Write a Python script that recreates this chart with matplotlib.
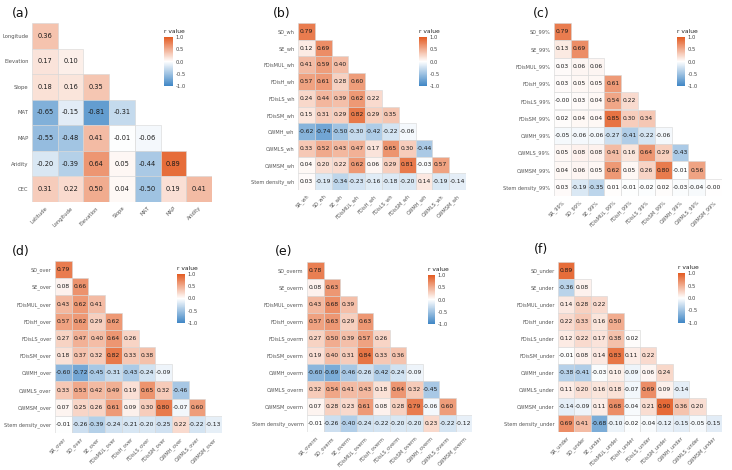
"""
Lower-triangle correlation heatmaps for six variable sets.
"""

import numpy as np
import matplotlib.pyplot as plt
from matplotlib.colors import LinearSegmentedColormap, Normalize
from matplotlib.cm import ScalarMappable
from matplotlib.patches import Rectangle

# ---- data (lower triangles, row by row) ----
env_vars = ["Latitude", "Longitude", "Elevation", "Slope", "MAT", "MAP",
            "Aridity", "CEC"]
env_r = [
    [0.36],
    [0.17, 0.10],
    [0.18, 0.16, 0.35],
    [-0.65, -0.15, -0.81, -0.31],
    [-0.55, -0.48, 0.41, -0.01, -0.06],
    [-0.20, -0.39, 0.64, 0.05, -0.44, 0.89],
    [0.31, 0.22, 0.50, 0.04, -0.50, 0.19, 0.41],
]

trait_vars = ["SR", "SD", "SE", "FDisMUL", "FDisH", "FDisLS", "FDisSM",
              "CWMH", "CWMLS", "CWMSM", "Stem density"]

wh_r = [
    [0.79],
    [0.12, 0.69],
    [0.41, 0.59, 0.40],
    [0.57, 0.61, 0.28, 0.60],
    [0.24, 0.44, 0.39, 0.62, 0.22],
    [0.15, 0.31, 0.29, 0.82, 0.29, 0.35],
    [-0.62, -0.74, -0.50, -0.30, -0.42, -0.22, -0.06],
    [0.33, 0.52, 0.43, 0.47, 0.17, 0.65, 0.30, -0.44],
    [0.04, 0.20, 0.22, 0.62, 0.06, 0.29, 0.81, -0.03, 0.57],
    [0.03, -0.19, -0.34, -0.23, -0.16, -0.18, -0.20, 0.14, -0.19, -0.14],
]

p99_r = [
    [0.79],
    [0.13, 0.69],
    [0.03, 0.06, 0.06],
    [0.03, 0.05, 0.05, 0.61],
    [-0.00, 0.03, 0.04, 0.54, 0.22],
    [0.02, 0.04, 0.04, 0.85, 0.30, 0.34],
    [-0.05, -0.06, -0.06, -0.27, -0.41, -0.22, -0.06],
    [0.05, 0.08, 0.08, 0.41, 0.16, 0.64, 0.29, -0.43],
    [0.04, 0.06, 0.05, 0.62, 0.05, 0.26, 0.80, -0.01, 0.56],
    [0.03, -0.19, -0.35, 0.01, -0.01, -0.02, 0.02, -0.03, -0.04, -0.00],
]

over_r = [
    [0.79],
    [0.08, 0.66],
    [0.43, 0.62, 0.41],
    [0.57, 0.62, 0.29, 0.62],
    [0.27, 0.47, 0.40, 0.64, 0.26],
    [0.18, 0.37, 0.32, 0.82, 0.33, 0.38],
    [-0.60, -0.72, -0.45, -0.31, -0.43, -0.24, -0.09],
    [0.33, 0.53, 0.42, 0.49, 0.19, 0.65, 0.32, -0.46],
    [0.07, 0.25, 0.26, 0.61, 0.09, 0.30, 0.80, -0.07, 0.60],
    [-0.01, -0.26, -0.39, -0.24, -0.21, -0.20, -0.25, 0.22, -0.22, -0.13],
]

overm_r = [
    [0.78],
    [0.08, 0.63],
    [0.43, 0.68, 0.39],
    [0.57, 0.63, 0.29, 0.63],
    [0.27, 0.50, 0.39, 0.57, 0.26],
    [0.19, 0.40, 0.31, 0.84, 0.33, 0.36],
    [-0.60, -0.69, -0.46, -0.26, -0.42, -0.24, -0.09],
    [0.32, 0.54, 0.41, 0.43, 0.18, 0.64, 0.32, -0.45],
    [0.07, 0.28, 0.23, 0.61, 0.08, 0.28, 0.79, -0.06, 0.60],
    [-0.01, -0.26, -0.40, -0.24, -0.22, -0.20, -0.20, 0.23, -0.22, -0.12],
]

under_r = [
    [0.89],
    [-0.36, 0.08],
    [0.14, 0.28, 0.22],
    [0.22, 0.33, 0.16, 0.50],
    [0.12, 0.22, 0.17, 0.38, 0.02],
    [-0.01, 0.08, 0.14, 0.83, 0.11, 0.22],
    [-0.38, -0.41, -0.03, 0.10, -0.09, 0.06, 0.24],
    [0.11, 0.20, 0.16, 0.18, -0.07, 0.69, 0.09, -0.14],
    [-0.14, -0.09, 0.11, 0.68, -0.04, 0.21, 0.90, 0.36, 0.20],
    [0.69, 0.41, -0.68, -0.10, -0.02, -0.04, -0.12, -0.15, -0.05, -0.15],
]

cbar_ticks = [-1.0, -0.5, 0.0, 0.5, 1.0]

W, H = 732, 470
cmap = LinearSegmentedColormap.from_list(
    "rvalue", ["#3F86C5", "#FFFFFF", "#E35B22"]
)
norm = Normalize(vmin=-1, vmax=1)


def fig_rect(left, right, top, bottom):
    """
    Pixel box -> figure fraction rect.
    """
    return [left / W, 1 - bottom / H, (right - left) / W, (bottom - top) / H]


def draw_panel(fig, tag, names, rows, box, cbar_box, tag_xy,
               value_size=4.3, tick_size=3.6):
    """
    Draw one lower-triangle correlation panel with its legend.
    """
    n = len(rows)

    ax = fig.add_axes(fig_rect(*box))
    for i, row in enumerate(rows):
        for j, v in enumerate(row):
            ax.add_patch(Rectangle(
                (j, i), 1, 1,
                facecolor=cmap(norm(v)),
                edgecolor="#D6D6D6",
                linewidth=0.4,
            ))
            ax.text(j + 0.5, i + 0.5, f"{v:.2f}", ha="center", va="center",
                    fontsize=value_size, color="#1A1A1A")
    ax.set_xlim(0, n)
    ax.set_ylim(n, 0)
    ax.set_xticks(np.arange(n) + 0.5)
    ax.set_xticklabels(names[:-1], rotation=45, ha="right",
                       rotation_mode="anchor")
    ax.set_yticks(np.arange(n) + 0.5)
    ax.set_yticklabels(names[1:])
    ax.tick_params(length=0, labelsize=tick_size, colors="#555555", pad=2.5)
    for s in ax.spines.values():
        s.set_visible(False)

    cax = fig.add_axes(fig_rect(*cbar_box))
    cb = fig.colorbar(ScalarMappable(norm=norm, cmap=cmap), cax=cax)
    cb.outline.set_visible(False)
    cb.set_ticks(cbar_ticks)
    cb.set_ticklabels([f"{t:.1f}" for t in cbar_ticks])
    cax.tick_params(length=0, labelsize=3.8, colors="#444444", pad=2)
    cax.text(0, 1.06, "r value", transform=cax.transAxes, ha="left",
             va="bottom", fontsize=4.3, color="#222222")

    fig.text(tag_xy[0] / W, 1 - tag_xy[1] / H, tag, fontsize=9,
             ha="left", va="center", color="#111111")


fig = plt.figure(figsize=(W / 100, H / 100), dpi=100)

draw_panel(fig, "(a)", env_vars, env_r,
           (32, 212, 23, 202), (164, 173, 37, 86), (12, 13),
           value_size=4.8, tick_size=3.8)
draw_panel(fig, "(b)", [v + "_wh" for v in trait_vars], wh_r,
           (298, 466, 23, 190), (419, 427, 37, 86), (273, 13))
draw_panel(fig, "(c)", [v + "_99%" for v in trait_vars], p99_r,
           (554, 722, 23, 196), (677, 685, 37, 86), (533, 13))
draw_panel(fig, "(d)", [v + "_over" for v in trait_vars], over_r,
           (55, 222, 261, 433), (177, 185, 274, 323), (12, 252))
draw_panel(fig, "(e)", [v + "_overm" for v in trait_vars], overm_r,
           (307, 472, 262, 432), (428, 435, 275, 324), (275, 252))
draw_panel(fig, "(f)", [v + "_under" for v in trait_vars], under_r,
           (558, 722, 262, 432), (678, 685, 273, 323), (534, 250))

fig.savefig("out.png", dpi=100)
